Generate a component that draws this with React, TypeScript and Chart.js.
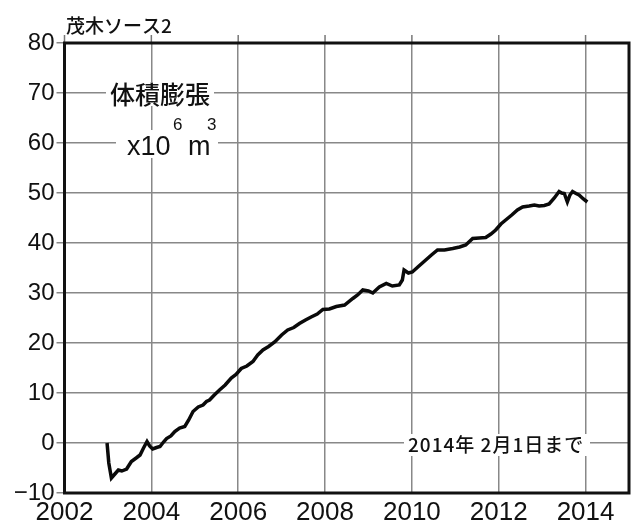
import React, { useEffect, useRef } from "react";
import { Chart, registerables } from "chart.js";

Chart.register(...registerables);

const years = [
  2002.98, 2003.02, 2003.08, 2003.15, 2003.24, 2003.32, 2003.43, 2003.54, 2003.65, 2003.74,
  2003.82, 2003.9, 2003.96, 2004.03, 2004.12, 2004.2, 2004.28, 2004.35, 2004.45, 2004.54,
  2004.65, 2004.77, 2004.86, 2004.96, 2005.08, 2005.19, 2005.27, 2005.34, 2005.45, 2005.57,
  2005.7, 2005.84, 2005.95, 2006.07, 2006.2, 2006.34, 2006.45, 2006.57, 2006.7, 2006.84,
  2007.0, 2007.14, 2007.28, 2007.41, 2007.55, 2007.68, 2007.82, 2007.95, 2008.1, 2008.26,
  2008.45, 2008.64, 2008.75, 2008.87, 2009.0, 2009.1, 2009.25, 2009.41, 2009.55, 2009.71,
  2009.78, 2009.82, 2009.92, 2010.01, 2010.15, 2010.32, 2010.45, 2010.59, 2010.75, 2010.94,
  2011.1, 2011.24, 2011.4, 2011.55, 2011.7, 2011.82, 2011.93, 2012.05, 2012.16, 2012.3,
  2012.43, 2012.55, 2012.7, 2012.82, 2012.93, 2013.05, 2013.16, 2013.28, 2013.39, 2013.45,
  2013.51, 2013.58, 2013.64, 2013.7, 2013.78, 2013.85, 2013.95, 2014.04,
];

const volume = [
  0, -4, -7, -6.3, -5.4, -5.6, -5.2, -3.7, -3.0, -2.4,
  -1.0, 0.3, -0.6, -1.2, -0.9, -0.7, 0.2, 0.9, 1.4, 2.3,
  3.0, 3.3, 4.6, 6.3, 7.2, 7.6, 8.3, 8.6, 9.6, 10.6,
  11.6, 13.0, 13.7, 14.9, 15.4, 16.3, 17.6, 18.6, 19.3, 20.2,
  21.6, 22.6, 23.1, 23.9, 24.6, 25.2, 25.8, 26.7, 26.8, 27.3,
  27.6, 28.9, 29.6, 30.6, 30.4, 30.0, 31.2, 31.9, 31.4, 31.6,
  32.6, 34.6, 34.0, 34.2, 35.3, 36.6, 37.6, 38.6, 38.6, 38.9,
  39.2, 39.6, 40.9, 41.0, 41.1, 41.8, 42.6, 43.8, 44.6, 45.6,
  46.6, 47.2, 47.4, 47.6, 47.4, 47.5, 47.8, 49.0, 50.3, 50.0,
  49.9, 48.2, 49.6, 50.3, 49.9, 49.6, 48.8, 48.2,
];

const xTickYears = [2002, 2004, 2006, 2008, 2010, 2012, 2014];

const titleText = "茂木ソース2";
const labelText = "体積膨張";
const unitBase = "x10";
const unitExp1 = "6";
const unitM = "m";
const unitExp2 = "3";
const noteText = "2014年 2月1日まで";

const xMin = 2002;
const xMax = 2015;
const yMin = -10;
const yMax = 80;

const CJK = '"Noto Sans CJK JP", "Noto Sans", sans-serif';
const SANS = '"Liberation Sans", Arial, sans-serif';

const decorPlugin = {
  id: "decor",
  afterDraw(chart: any) {
    const { ctx, chartArea } = chart;
    const { left, top, right, bottom } = chartArea;
    const xs = chart.scales.x;
    ctx.save();
    // top tick marks
    ctx.strokeStyle = "#777";
    ctx.lineWidth = 1.5;
    for (const t of xs.ticks) {
      const px = xs.getPixelForValue(t.value);
      ctx.beginPath();
      ctx.moveTo(px, top - 8);
      ctx.lineTo(px, top);
      ctx.stroke();
    }
    // frame
    ctx.strokeStyle = "#111";
    ctx.lineWidth = 3;
    ctx.strokeRect(left, top, right - left, bottom - top);

    // title
    ctx.fillStyle = "#111";
    ctx.font = `500 19px ${CJK}`;
    ctx.textAlign = "left";
    ctx.textBaseline = "alphabetic";
    ctx.fillText(titleText, 66, 33);

    // label box
    ctx.fillStyle = "#fff";
    ctx.fillRect(106, 82, 108, 24);
    ctx.fillStyle = "#111";
    ctx.font = `500 25px ${CJK}`;
    ctx.textAlign = "center";
    ctx.textBaseline = "middle";
    ctx.fillText(labelText, 160, 94);

    // unit
    ctx.fillStyle = "#fff";
    ctx.fillRect(116, 130, 102, 28);
    ctx.fillStyle = "#111";
    ctx.textAlign = "left";
    ctx.textBaseline = "alphabetic";
    ctx.font = `27px ${SANS}`;
    ctx.fillText(unitBase, 127, 155);
    ctx.fillText(unitM, 188, 155);
    ctx.font = `17px ${SANS}`;
    ctx.fillText(unitExp1, 173, 130);
    ctx.fillText(unitExp2, 207, 130);

    // note
    ctx.fillStyle = "#fff";
    ctx.fillRect(404, 434, 186, 22);
    ctx.fillStyle = "#111";
    ctx.font = `500 19px ${CJK}`;
    (ctx as any).letterSpacing = "1px";
    ctx.textAlign = "left";
    ctx.textBaseline = "middle";
    ctx.fillText(noteText, 408, 445);
    ctx.restore();
  },
};

export default function App() {
  const ref = useRef<HTMLCanvasElement | null>(null);
  useEffect(() => {
    document.body.style.margin = "0";
    const canvas = ref.current;
    if (!canvas) return;
    const points = years.map((x, i) => ({ x, y: volume[i] }));
    const chart = new Chart(canvas, {
      type: "line",
      data: {
        datasets: [
          {
            data: points,
            borderColor: "#0a0a0a",
            borderWidth: 3.5,
            pointRadius: 0,
            tension: 0,
            fill: false,
          },
        ],
      },
      options: {
        animation: false,
        responsive: false,
        devicePixelRatio: 1,
        layout: { padding: { top: 43, right: 12, left: 0, bottom: 0 } },
        plugins: {
          legend: { display: false },
          tooltip: { enabled: false },
          title: { display: false },
        },
        scales: {
          x: {
            type: "linear",
            min: xMin,
            max: xMax,
            border: { display: false },
            grid: { color: "#888", lineWidth: 1.5, drawTicks: false },
            ticks: {
              padding: 4,
              color: "#111",
              font: { family: SANS, size: 26 },
              callback: (v: any) => String(v),
              maxRotation: 0,
              autoSkip: false,
            },
            afterBuildTicks: (s: any) => {
              s.ticks = xTickYears.map((v) => ({ value: v }));
            },
            afterFit: (s: any) => {
              s.height = 34;
            },
          },
          y: {
            min: yMin,
            max: yMax,
            border: { display: false },
            grid: { color: "#888", lineWidth: 1.5, tickLength: 8 },
            ticks: {
              stepSize: 10,
              padding: 2,
              color: "#111",
              font: { family: SANS, size: 24 },
              callback: (v: any) => (Number(v) < 0 ? "\u2212" + Math.abs(Number(v)) : String(v)),
            },
            afterFit: (s: any) => {
              s.width = 64.5;
            },
          },
        },
      },
      plugins: [decorPlugin],
    });
    return () => chart.destroy();
  }, []);
  return (
    <div style={{ width: 641, height: 527, background: "#fff" }}>
      <canvas ref={ref} width={641} height={527} style={{ display: "block" }} />
    </div>
  );
}
